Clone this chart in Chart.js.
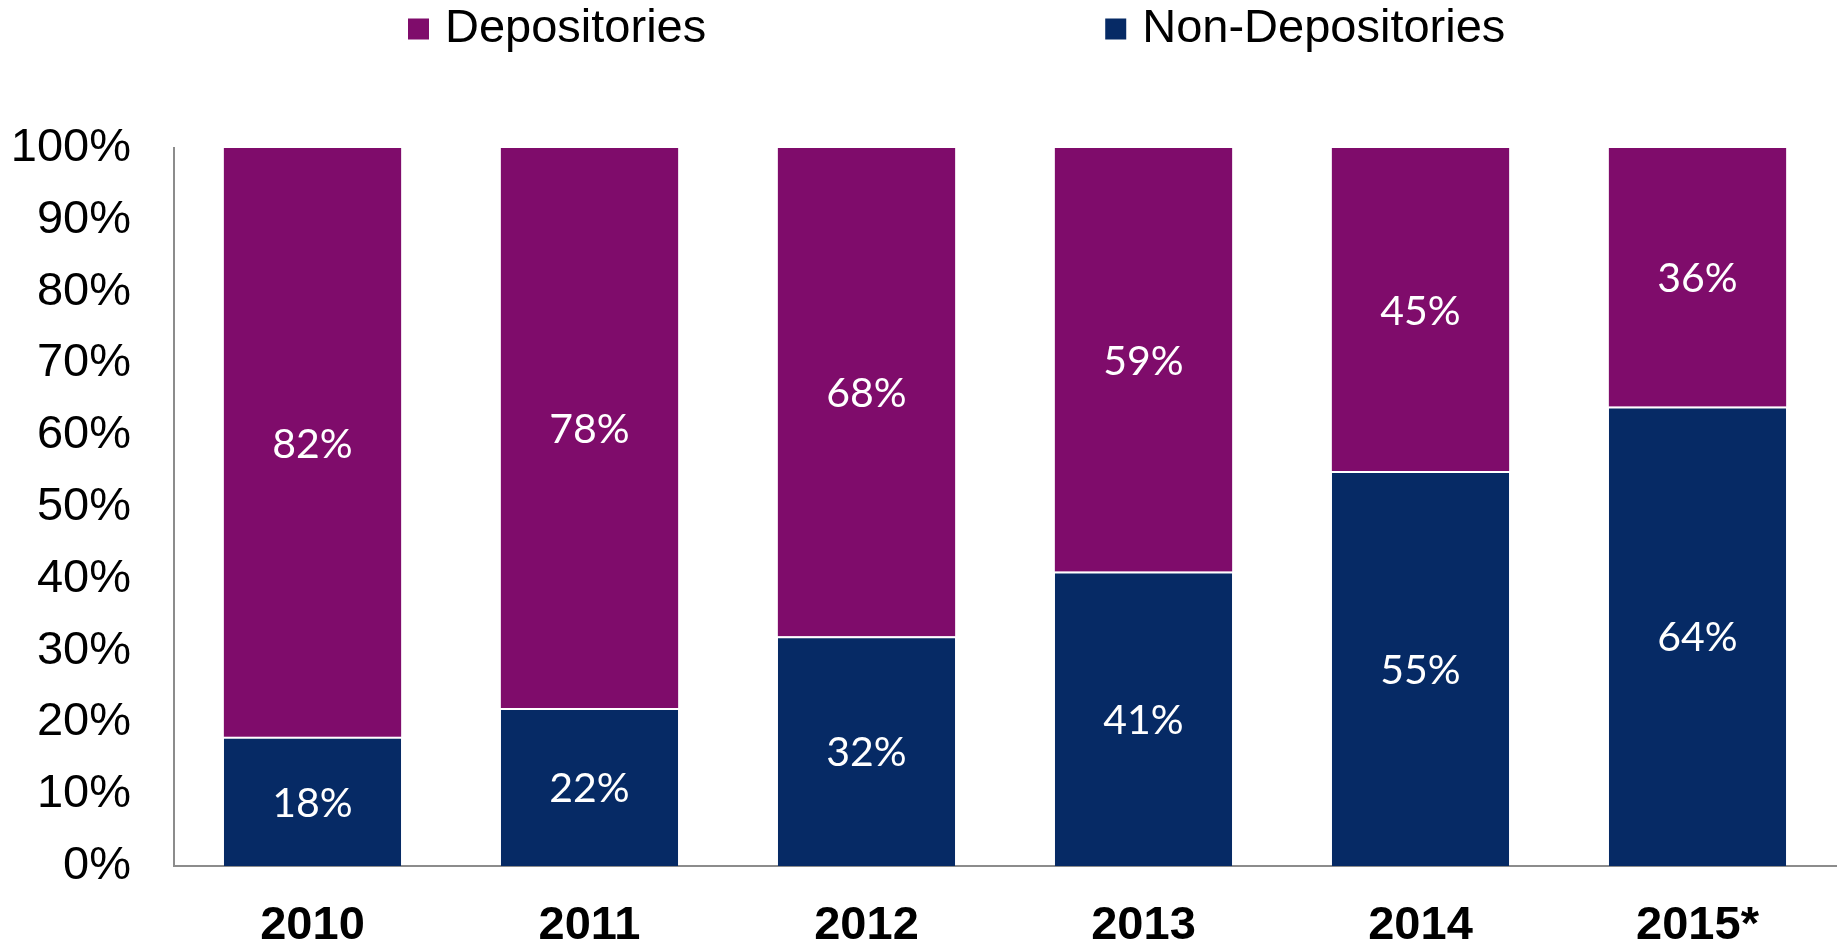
<!DOCTYPE html>
<html>
<head>
<meta charset="utf-8">
<script src="https://cdn.jsdelivr.net/npm/chart.js@4/dist/chart.umd.min.js"></script>
<style>
  html, body { margin: 0; padding: 0; background: #ffffff; }
  #wrap { width: 1841px; height: 944px; position: relative; }
</style>
</head>
<body>
<div id="wrap"><canvas id="chart"></canvas></div>
<script>
// Share of volume by lender type, per year
const years = ['2010', '2011', '2012', '2013', '2014', '2015*'];
const nonDepositories = [18, 22, 32, 41, 55, 64];
const depositories = [82, 78, 68, 59, 45, 36];
const yTicks = [0, 10, 20, 30, 40, 50, 60, 70, 80, 90, 100];

const PURPLE = '#7F0C6B';
const NAVY = '#062A65';
const AXIS_GREY = '#8C8C8C';

// White percentage labels centred inside each bar segment
const segmentLabels = {
  id: 'segmentLabels',
  afterDatasetsDraw(chart) {
    const ctx = chart.ctx;
    ctx.save();
    ctx.fillStyle = '#ffffff';
    ctx.font = '41px Lato';
    ctx.textAlign = 'center';
    ctx.textBaseline = 'middle';
    chart.data.datasets.forEach((ds, di) => {
      const meta = chart.getDatasetMeta(di);
      meta.data.forEach((bar, i) => {
        const v = ds.data[i];
        const cy = (bar.y + bar.base) / 2;
        ctx.fillText(v + '%', bar.x, cy + 2);
      });
    });
    ctx.restore();
  }
};

// Legend row across the top: square swatch followed by the series name
const topLegend = {
  id: 'topLegend',
  afterDraw(chart, args, opts) {
    const ctx = chart.ctx;
    ctx.save();
    ctx.font = opts.fontSize + 'px "Liberation Sans", Arial, sans-serif';
    ctx.textBaseline = 'middle';
    ctx.textAlign = 'left';
    let x = opts.startX;
    opts.order.forEach((di) => {
      const ds = chart.data.datasets[di];
      ctx.fillStyle = ds.backgroundColor;
      ctx.fillRect(x, opts.centerY - opts.box / 2, opts.box, opts.box);
      ctx.fillStyle = '#000000';
      const tx = x + opts.box + opts.textGap;
      ctx.fillText(ds.label, tx, opts.centerY);
      x = tx + ctx.measureText(ds.label).width + opts.itemGap;
    });
    ctx.restore();
  }
};

new Chart(document.getElementById('chart'), {
  type: 'bar',
  data: {
    labels: years,
    datasets: [
      {
        label: 'Non-Depositories',
        data: nonDepositories,
        backgroundColor: NAVY,
        borderColor: '#ffffff',
        borderWidth: { top: 2, left: 0, right: 0, bottom: 0 },
        borderSkipped: false,
        barPercentage: 0.64,
        categoryPercentage: 1.0
      },
      {
        label: 'Depositories',
        data: depositories,
        backgroundColor: PURPLE,
        borderWidth: 0,
        barPercentage: 0.64,
        categoryPercentage: 1.0
      }
    ]
  },
  options: {
    responsive: true,
    maintainAspectRatio: false,
    animation: false,
    layout: { padding: { top: 148, right: 5, bottom: 0, left: 0 } },
    plugins: {
      legend: { display: false },
      tooltip: { enabled: false },
      topLegend: {
        order: [1, 0],
        startX: 408,
        centerY: 29,
        box: 21,
        textGap: 16,
        itemGap: 399,
        fontSize: 47
      }
    },
    scales: {
      x: {
        stacked: true,
        afterFit(scale) { scale.height = 78; },
        grid: { display: false, drawTicks: false },
        border: { display: true, color: AXIS_GREY, width: 2 },
        ticks: {
          color: '#000000',
          padding: 37,
          font: { family: '"Liberation Sans", Arial, sans-serif', size: 47, weight: 'bold', lineHeight: 1 }
        }
      },
      y: {
        stacked: true,
        min: 0,
        max: 100,
        afterBuildTicks(scale) {
          scale.ticks = yTicks.map(v => ({ value: v }));
        },
        afterFit(scale) { scale.width = 174; },
        grid: { display: false, drawTicks: false },
        border: { display: true, color: AXIS_GREY, width: 2 },
        ticks: {
          color: '#000000',
          padding: 43,
          callback: (v) => v + '%',
          font: { family: '"Liberation Sans", Arial, sans-serif', size: 47, lineHeight: 1 }
        }
      }
    }
  },
  plugins: [segmentLabels, topLegend]
});
</script>
</body>
</html>
